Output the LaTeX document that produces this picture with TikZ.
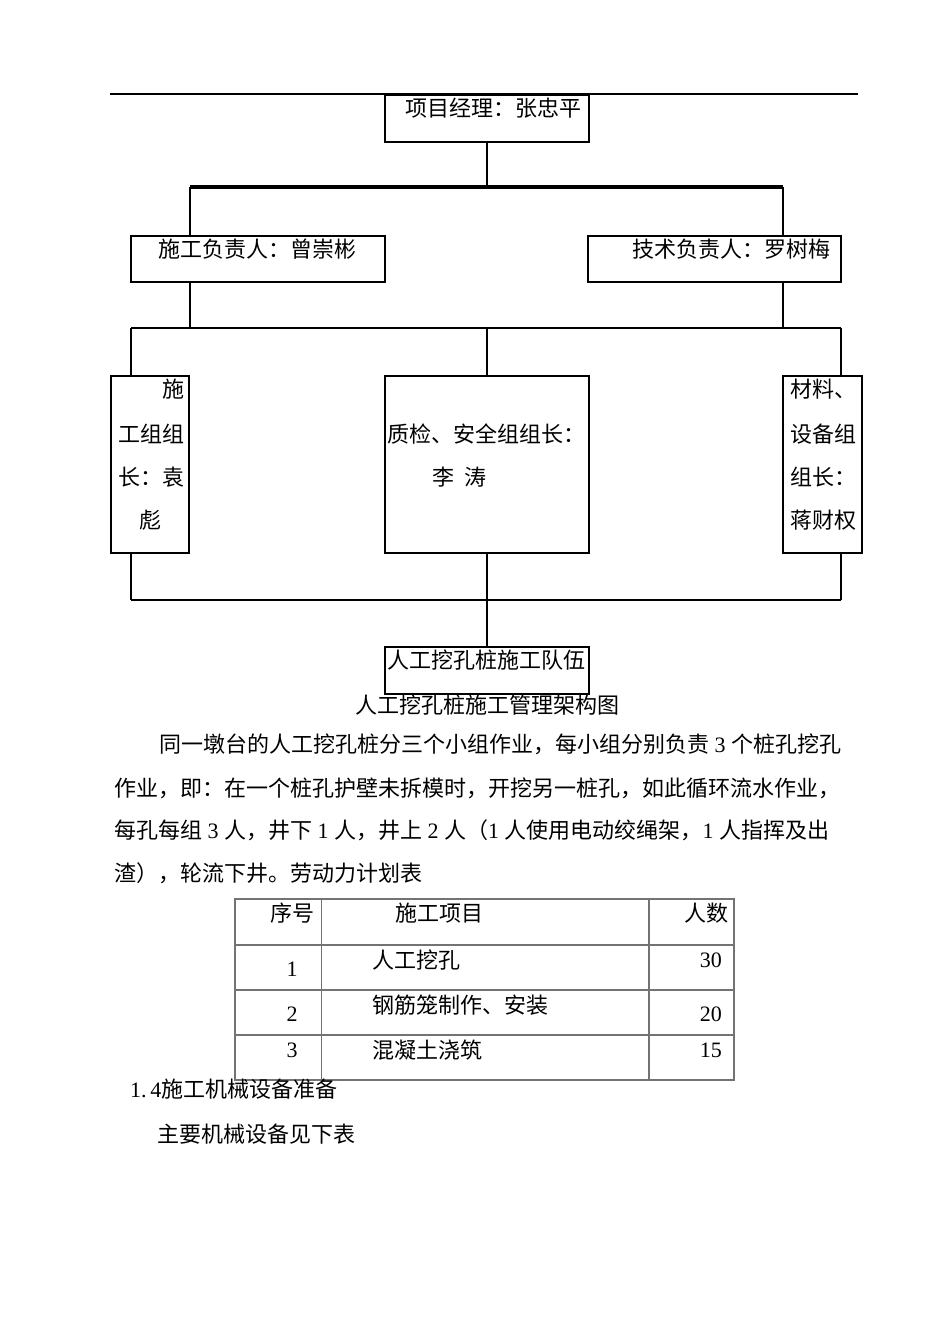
\documentclass[tikz,border=0pt]{standalone}
\usepackage{fontspec}
\setmainfont{Noto Sans CJK SC}
\newfontfamily\numfont{Liberation Serif}
\usetikzlibrary{fit}
\begin{document}
\begin{tikzpicture}[x=1pt,y=-1pt,
  box/.style={draw, line width=2.4pt, inner sep=0pt, outer sep=0pt},
  conn/.style={line width=2.6pt},
  bar/.style={line width=3.2pt},
  txt/.style={font=\fontsize{22}{26}\selectfont, inner sep=0pt, anchor=west},
  grid/.style={draw=black!55, line width=1.3pt}]
\useasboundingbox (0,0) rectangle (950,1344);
% top rule
\draw[line width=1.5pt] (110,94) -- (858,94);
% boxes
\node[box, fit={(385,95) (589,142)}] (b1) {};
\node[box, fit={(131,236) (385,282)}] (b2) {};
\node[box, fit={(588,236) (841,282)}] (b3) {};
\node[box, fit={(111,376) (189,553)}] (b4) {};
\node[box, fit={(385,376) (589,553)}] (b5) {};
\node[box, fit={(783,376) (862,553)}] (b6) {};
\node[box, fit={(385,647) (589,694)}] (b7) {};
% box texts
\node[txt] (t1) at (405,108) {项目经理：张忠平};
\node[txt] (t2) at (158,249) {施工负责人：曾崇彬};
\node[txt] (t3) at (632,249) {技术负责人：罗树梅};
\node[txt, anchor=east] (t4a) at (185,389) {施};
\node[txt] (t4b) at (118,434) {工组组};
\node[txt] (t4c) at (118,477) {长：袁};
\node[txt, anchor=center] (t4d) at (150,520) {彪};
\node[txt] (t5a) at (387,434) {质检、安全组组长：};
\node[txt] (t5b) at (432,477) {李\hspace{10pt}涛};
\node[txt] (t6a) at (790,389) {材料、};
\node[txt] (t6b) at (790,434) {设备组};
\node[txt] (t6c) at (790,477) {组长：};
\node[txt] (t6d) at (790,520) {蒋财权};
\node[txt] (t7) at (387,660) {人工挖孔桩施工队伍};
% connectors
\coordinate (l1) at (190,187);
\coordinate (r1) at (783,187);
\coordinate (l2) at (131,328);
\coordinate (r2) at (841,328);
\coordinate (l3) at (131,600);
\coordinate (r3) at (841,600);
\draw[conn] (b1.south) -- (b1.south |- l1);
\draw[bar] (l1) -- (r1);
\draw[conn] (l1) -- (l1 |- b2.north);
\draw[conn] (r1) -- (r1 |- b3.north);
\draw[conn] (l1 |- b2.south) -- (l1 |- l2);
\draw[conn] (r1 |- b3.south) -- (r1 |- r2);
\draw[conn] (l2) -- (r2);
\draw[conn] (l2) -- (l2 |- b4.north);
\draw[conn] (b5.north |- l2) -- (b5.north);
\draw[conn] (r2) -- (r2 |- b6.north);
\draw[conn] (l2 |- b4.south) -- (l3);
\draw[conn] (r2 |- b6.south) -- (r3);
\draw[conn] (l3) -- (r3);
\draw[conn] (b5.south) -- (b7.north);
% caption
\node[txt, anchor=center] (cap) at (487,705) {人工挖孔桩施工管理架构图};
% paragraph
\node[txt] (p1) at (159,744) {同一墩台的人工挖孔桩分三个小组作业，每小组分别负责{\numfont\ 3 }个桩孔挖孔};
\node[txt] (p2) at (114,788) {作业，即：在一个桩孔护壁未拆模时，开挖另一桩孔，如此循环流水作业，};
\node[txt] (p3) at (114,830) {每孔每组{\numfont\ 3 }人，井下{\numfont\ 1 }人，井上{\numfont\ 2 }人（{\numfont 1 }人使用电动绞绳架，{\numfont 1 }人指挥及出};
\node[txt] (p4) at (114,873) {渣），轮流下井。劳动力计划表};
% table
\draw[grid] (235,899) rectangle (734,1080);
\draw[grid] (235,945) -- (734,945);
\draw[grid] (235,990) -- (734,990);
\draw[grid] (235,1035) -- (734,1035);
\draw[grid] (321.5,899) -- (321.5,1080);
\draw[grid] (649,899) -- (649,1080);
\node[txt] (h1) at (270,913) {序号};
\node[txt] (h2) at (395,913) {施工项目};
\node[txt] (h3) at (684,913) {人数};
\node[txt, anchor=center] (n1) at (292,969) {\numfont 1};
\node[txt] (i1) at (372,960) {人工挖孔};
\node[txt, anchor=east] (c1) at (722,960) {\numfont 30};
\node[txt, anchor=center] (n2) at (292,1014) {\numfont 2};
\node[txt] (i2) at (372,1005) {钢筋笼制作、安装};
\node[txt, anchor=east] (c2) at (722,1014) {\numfont 20};
\node[txt, anchor=center] (n3) at (292,1050) {\numfont 3};
\node[txt] (i3) at (372,1050) {混凝土浇筑};
\node[txt, anchor=east] (c3) at (722,1050) {\numfont 15};
% following text
\node[txt] (s1) at (130,1089) {{\numfont 1.\,4}施工机械设备准备};
\node[txt] (s2) at (157,1134) {主要机械设备见下表};
\end{tikzpicture}
\end{document}
